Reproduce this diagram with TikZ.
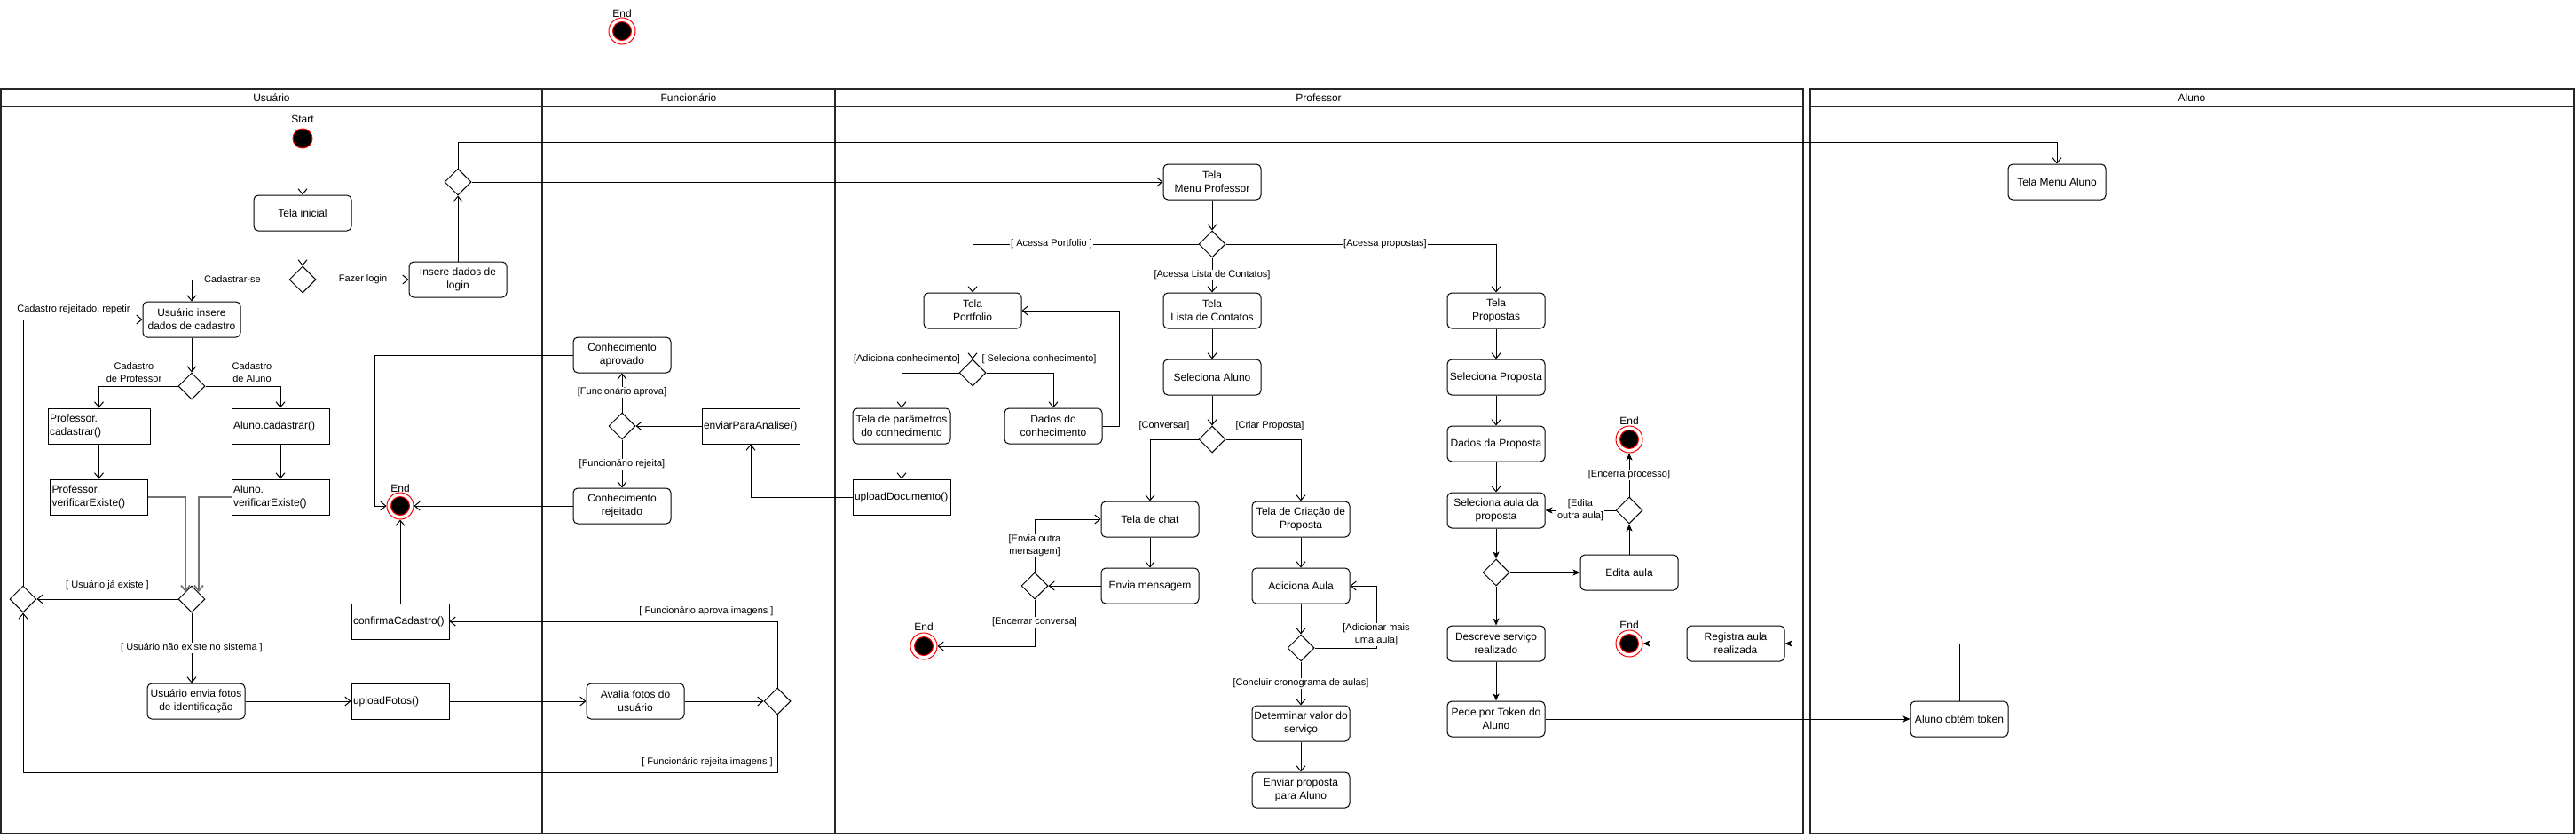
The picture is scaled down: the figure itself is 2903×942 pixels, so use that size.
\documentclass[tikz,border=0pt]{standalone}
\usepackage{fontspec}
\setmainfont{Liberation Sans}
\usetikzlibrary{arrows.meta,shapes.geometric,calc}
\begin{document}
\begin{tikzpicture}[x=1pt,y=-1pt,
  every node/.style={font=\fontsize{12}{15}\selectfont},
  act/.style={draw, rounded corners=5pt, line width=1pt, minimum width=110pt, minimum height=40pt, inner sep=1pt, align=center, fill=white},
  meth/.style={draw, line width=1pt, minimum height=40pt, text width=106pt, inner sep=2pt, align=left, fill=white},
  dec/.style={diamond, draw, line width=1pt, minimum width=30pt, minimum height=30pt, inner sep=0pt, fill=white},
  startst/.style={circle, fill=black, draw=red, line width=1pt, minimum size=22pt, inner sep=0pt},
  endst/.style={circle, draw=red, fill=white, line width=1pt, minimum size=30pt, inner sep=0pt,
     path picture={\draw[red, fill=black, line width=1pt] (path picture bounding box.center) circle (10.5pt);}},
  lbl/.style={font=\fontsize{11}{14}\selectfont, inner sep=1pt, align=center},
  lblw/.style={lbl, fill=white},
  arr/.style={draw, line width=1pt, -{Straight Barb[length=6pt,width=10pt]}},
  farr/.style={draw, line width=1pt, -{Stealth[length=8pt,width=7pt,inset=2pt]}},
  garr/.style={draw=black!55, line width=1.8pt, -{Straight Barb[length=6pt,width=10pt]}},
  lane/.style={draw=black!85, line width=2pt},
  ttl/.style={font=\fontsize{12}{15}\selectfont}
]
\useasboundingbox (0,0) rectangle (2903,942);
\fill[white] (0,0) rectangle (2903,942);

% ---------- lanes ----------
\draw[lane] (1,100) rectangle (611,939);
\draw[lane] (1,120) -- (611,120);
\draw[lane] (611,100) rectangle (941,939);
\draw[lane] (611,120) -- (941,120);
\draw[lane] (941,100) rectangle (2032,939);
\draw[lane] (941,120) -- (2032,120);
\draw[lane] (2040,100) rectangle (2901,939);
\draw[lane] (2040,120) -- (2901,120);
\node[ttl] (h1) at (306,110) {Usuário};
\node[ttl] (h2) at (776,110) {Funcionário};
\node[ttl] (h3) at (1486,110) {Professor};
\node[ttl] (h4) at (2470,110) {Aluno};

% ---------- top end ----------
\node[endst] (end0) at (701,35) {};
\node (end0l) at (701,15) {End};

% ---------- Usuario ----------
\node (startl) at (341,134) {Start};
\node[startst] (start) at (341,156) {};
\node[act] (ti) at (341,240) {Tela inicial};
\node[dec] (d1) at (341,315) {};
\node[act] (login) at (516,315) {Insere dados de\\login};
\node[dec] (d2) at (516,205) {};
\node[act] (cad) at (216,360) {Usuário insere\\dados de cadastro};
\node[dec] (d3) at (216,435) {};
\node[meth, text width=111pt] (pcad) at (111.5,480) {Professor.\\cadastrar()};
\node[meth] (acad) at (316,480) {Aluno.cadastrar()};
\node[meth] (pver) at (111.5,560) {Professor.\\verificarExiste()};
\node[meth] (aver) at (316,560) {Aluno.\\verificarExiste()};
\node[dec] (d4) at (216,675) {};
\node[dec] (d5) at (26,675) {};
\node[act] (fotos) at (221,790) {Usuário envia fotos\\de identificação};
\node[meth] (upf) at (451,790) {uploadFotos()};
\node[meth] (conf) at (451,700) {confirmaCadastro()};
\node[endst] (end1) at (451,570) {};
\node (end1l) at (451,550) {End};

% ---------- Funcionario ----------
\node[act] (capr) at (701,400) {Conhecimento\\aprovado};
\node[dec] (d6) at (701,480) {};
\node[act] (crej) at (701,570) {Conhecimento\\rejeitado};
\node[meth] (env) at (846,480) {enviarParaAnalise()};
\node[act] (aval) at (716,790) {Avalia fotos do\\usuário};
\node[dec] (d7) at (876,790) {};

% ---------- Professor ----------
\node[act] (tmp) at (1366,205) {Tela\\Menu Professor};
\node[dec] (d8) at (1366,275) {};
\node[act] (tport) at (1096,350) {Tela\\Portfolio};
\node[act] (tlista) at (1366,350) {Tela\\Lista de Contatos};
\node[act] (tprop) at (1686,350) {Tela\\Propostas};
\node[dec] (d9) at (1096,420) {};
\node[act] (tparam) at (1016,480) {Tela de parâmetros\\do conhecimento};
\node[act] (dados) at (1187,480) {Dados do\\conhecimento};
\node[meth] (updoc) at (1016,560) {uploadDocumento()};
\node[act] (selal) at (1366,425) {Seleciona Aluno};
\node[dec] (d10) at (1366,495) {};
\node[act] (chat) at (1296,585) {Tela de chat};
\node[act] (envm) at (1296,660) {Envia mensagem};
\node[dec] (d11) at (1166,660) {};
\node[endst] (end2) at (1041,728) {};
\node (end2l) at (1041,706) {End};
\node[act] (tcria) at (1466,585) {Tela de Criação de\\Proposta};
\node[act] (adic) at (1466,660) {Adiciona Aula};
\node[dec] (d12) at (1466,730) {};
\node[act] (det) at (1466,815) {Determinar valor do\\serviço};
\node[act] (envp) at (1466,890) {Enviar proposta\\para Aluno};
\node[act] (selp) at (1686,425) {Seleciona Proposta};
\node[act] (dprop) at (1686,500) {Dados da Proposta};
\node[act] (sela) at (1686,575) {Seleciona aula da\\proposta};
\node[dec] (d13) at (1686,645) {};
\node[act] (edita) at (1836,645) {Edita aula};
\node[dec] (d14) at (1836,575) {};
\node[endst] (end3) at (1836,495) {};
\node (end3l) at (1836,474) {End};
\node[act] (desc) at (1686,725) {Descreve serviço\\realizado};
\node[act] (pede) at (1686,810) {Pede por Token do\\Aluno};
\node[act] (reg) at (1956,725) {Registra aula\\realizada};
\node[endst] (end4) at (1836,725) {};
\node (end4l) at (1836,704) {End};

% ---------- Aluno ----------
\node[act] (tma) at (2318,205) {Tela Menu Aluno};
\node[act] (tok) at (2208,810) {Aluno obtém token};

% ---------- helper coordinates ----------
\coordinate (c1) at (516,160);
\coordinate (c2) at (26,870);
\coordinate (c3) at (422,400);
\coordinate (c4) at (1261,480);
\coordinate (c5) at (1551,730);
\coordinate (pv) at (209,667);
\coordinate (av) at (224,667);

% ---------- connectors ----------
\draw[arr] (start) -- (ti);
\draw[arr] (ti) -- (d1);
\draw[arr] (d1.west) -| (cad.north);
\draw[arr] (d1.east) -- (login.west);
\draw[arr] (login.north) -- (d2.south);
\draw[arr] (d2.north) -- (c1) -| (tma.north);
\draw[arr] (d2.east) -- (tmp.west);
\draw[arr] (cad) -- (d3);
\draw[arr] (d3.west) -| (pcad.north);
\draw[arr] (d3.east) -| (acad.north);
\draw[arr] (pcad) -- (pcad.center |- pver.north);
\draw[arr] (acad) -- (aver);
\draw[garr] (pver.east) -| (pv);
\draw[garr] (aver.west) -| (av);
\draw[arr] (d4.west) -- (d5.east);
\draw[arr] (d5.north) |- (cad.west);
\draw[arr] (d4.south) -- (d4.south |- fotos.north);
\draw[arr] (fotos.east) -- (upf.west);
\draw[arr] (upf.east) -- (aval.west);
\draw[arr] (aval.east) -- (d7.west);
\draw[arr] (d7.north) |- (conf.east);
\draw[arr] (d7.south) |- (c2) -- (d5.south);
\draw[arr] (conf.north) -- (end1.south);
\draw[arr] (capr.west) -- (c3) |- (end1.west);
\draw[arr] (crej.west) -- (end1.east);
\draw[arr] (d6.north) -- (capr.south);
\draw[arr] (d6.south) -- (crej.north);
\draw[arr] (env.west) -- (d6.east);
\draw[arr] (updoc.west) -| (env.south);
\draw[arr] (tmp) -- (d8);
\draw[arr] (d8.west) -| (tport.north);
\draw[arr] (d8.east) -| (tprop.north);
\draw[arr] (d8.south) -- (tlista.north);
\draw[arr] (tport) -- (d9);
\draw[arr] (d9.west) -| (tparam.north);
\draw[arr] (d9.east) -| (dados.north);
\draw[arr] (tparam) -- (updoc);
\draw[arr] (dados.east) -- (c4) |- (tport.east);
\draw[arr] (tlista) -- (selal);
\draw[arr] (selal) -- (d10);
\draw[arr] (d10.west) -| (chat.north);
\draw[arr] (d10.east) -| (tcria.north);
\draw[arr] (chat) -- (envm);
\draw[arr] (envm.west) -- (d11.east);
\draw[arr] (d11.north) |- (chat.west);
\draw[arr] (d11.south) |- (end2.east);
\draw[arr] (tcria) -- (adic);
\draw[arr] (adic) -- (d12);
\draw[arr] (d12.east) -- (c5) |- (adic.east);
\draw[arr] (d12.south) -- (det.north);
\draw[arr] (det) -- (envp);
\draw[arr] (tprop) -- (selp);
\draw[arr] (selp) -- (dprop);
\draw[arr] (dprop) -- (sela);
\draw[farr] (sela.south) -- (d13.north);
\draw[farr] (d13.east) -- (edita.west);
\draw[farr] (edita.north) -- (d14.south);
\draw[farr] (d14.north) -- (end3.south);
\draw[farr] (d14.west) -- (sela.east);
\draw[farr] (d13.south) -- (desc.north);
\draw[farr] (desc) -- (pede);
\draw[farr] (pede.east) -- (tok.west);
\draw[farr] (tok.north) |- (reg.east);
\draw[farr] (reg.west) -- (end4.east);

% ---------- labels ----------
\node[lblw] (l1) at (262,315) {Cadastrar-se};
\node[lblw] (l2) at (409,315) {Fazer login};
\node[lbl] (l3) at (83,349) {Cadastro rejeitado, repetir};
\node[lbl] (l4) at (151,420) {Cadastro\\de Professor};
\node[lbl] (l5) at (284,420) {Cadastro\\de Aluno};
\node[lbl] (l6) at (121,660) {[ Usuário já existe ]};
\node[lblw] (l7) at (216,730) {[ Usuário não existe no sistema ]};
\node[lbl] (l8) at (796,689) {[ Funcionário aprova imagens ]};
\node[lbl] (l9) at (797,859) {[ Funcionário rejeita imagens ]};
\node[lblw] (l10) at (701,442) {[Funcionário aprova]};
\node[lblw] (l11) at (701,523) {[Funcionário rejeita]};
\node[lblw] (l12) at (1185,275) {[ Acessa Portfolio ]};
\node[lblw] (l13) at (1561,275) {[Acessa propostas]};
\node[lblw] (l14) at (1366,310) {[Acessa Lista de Contatos]};
\node[lbl] (l15) at (1022,405) {[Adiciona conhecimento]};
\node[lbl] (l16) at (1171,405) {[ Seleciona conhecimento]};
\node[lbl] (l17) at (1312,480) {[Conversar]};
\node[lbl] (l18) at (1431,480) {[Criar Proposta]};
\node[lblw] (l19) at (1166,615) {[Envia outra\\mensagem]};
\node[lblw] (l20) at (1166,701) {[Encerrar conversa]};
\node[lblw] (l21) at (1551,715) {[Adicionar mais\\uma aula]};
\node[lblw] (l22) at (1466,770) {[Concluir cronograma de aulas]};
\node[lblw] (l23) at (1836,535) {[Encerra processo]};
\node[lblw] (l24) at (1781,575) {[Edita\\outra aula]};
\end{tikzpicture}
\end{document}
